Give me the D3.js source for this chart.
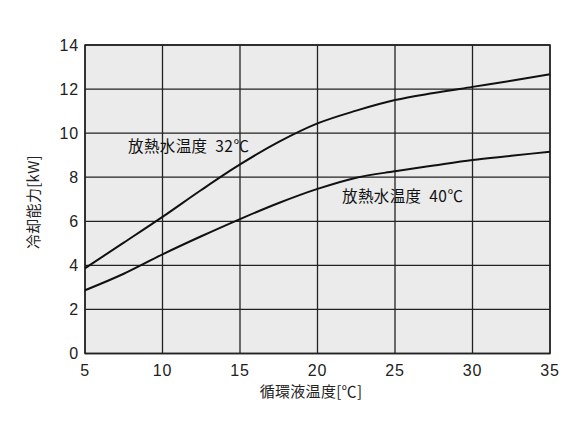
<!DOCTYPE html>
<html><head><meta charset="utf-8">
<script src="https://cdn.jsdelivr.net/npm/d3@7"></script>
<style>
body{margin:0;background:#fff;}
text{font-family:"Noto Sans CJK JP","Noto Sans",sans-serif;}
</style></head>
<body><svg id="c" width="583" height="437"></svg>
<script>
const xTicks = [5,10,15,20,25,30,35];
const yTicks = [0,2,4,6,8,10,12,14];
const xValues = [5,7.5,10,12.5,15,17.5,20,22.5,25,27.5,30,32.5,35];
const series32 = [3.87,5.03,6.2,7.42,8.58,9.6,10.44,11.02,11.5,11.82,12.1,12.38,12.67];
const series40 = [2.87,3.62,4.5,5.32,6.1,6.83,7.47,7.98,8.27,8.53,8.78,8.97,9.16];
const labels = ["放熱水温度 32℃","放熱水温度 40℃"];
const xTitle = "循環液温度[℃]";
const yTitle = "冷却能力[kW]";

const svg = d3.select("#c");
const L=85,R=550,T=45,B=353.5;
const x = d3.scaleLinear().domain([5,35]).range([L,R]);
const y = d3.scaleLinear().domain([0,14]).range([B,T]);

svg.append("rect").attr("x",L).attr("y",T).attr("width",R-L).attr("height",B-T).attr("fill","#ebebeb");

const g = svg.append("g");
g.selectAll(".gx").data(xTicks).join("line")
 .attr("x1",d=>x(d)).attr("x2",d=>x(d)).attr("y1",T).attr("y2",B)
 .attr("stroke","#222").attr("stroke-width",1.3);
g.selectAll(".gy").data(yTicks).join("line")
 .attr("y1",d=>y(d)).attr("y2",d=>y(d)).attr("x1",L).attr("x2",R)
 .attr("stroke","#222").attr("stroke-width",1.3);
svg.append("rect").attr("x",L).attr("y",T).attr("width",R-L).attr("height",B-T)
 .attr("fill","none").attr("stroke","#222").attr("stroke-width",1.5);

svg.append("g").selectAll("text").data(yTicks).join("text")
 .attr("x",79).attr("y",d=>y(d)).attr("dy","0.36em").attr("text-anchor","end")
 .attr("font-size",16).attr("letter-spacing",0.8).attr("fill","#222").style("font-family","Liberation Sans, Arial, sans-serif").text(d=>d);
svg.append("g").selectAll("text").data(xTicks).join("text")
 .attr("x",d=>x(d)).attr("y",370).attr("dy","0.36em").attr("text-anchor","middle")
 .attr("font-size",16).attr("letter-spacing",0.8).attr("fill","#222").style("font-family","Liberation Sans, Arial, sans-serif").text(d=>d);

svg.append("text").attr("x",311).attr("y",392).attr("dy","0.36em").attr("text-anchor","middle")
 .attr("font-size",15).attr("letter-spacing",0.3).attr("fill","#222").text(xTitle);
svg.append("text").attr("transform","translate(34,202) rotate(-90)").attr("dy","0.36em").attr("text-anchor","middle")
 .attr("font-size",15).attr("letter-spacing",0.3).attr("fill","#222").text(yTitle);

const line = d3.line().x((d,i)=>x(xValues[i])).y(d=>y(d)).curve(d3.curveMonotoneX);
[series32,series40].forEach(s=>{
  svg.append("path").attr("d",line(s)).attr("fill","none").attr("stroke","#111").attr("stroke-width",2);
});

svg.append("text").attr("x",128).attr("y",146).attr("dy","0.36em").attr("font-size",15.5).attr("letter-spacing",0.4).attr("word-spacing",4).attr("fill","#111").text(labels[0]);
svg.append("text").attr("x",342).attr("y",196).attr("dy","0.36em").attr("font-size",15.5).attr("letter-spacing",0.4).attr("word-spacing",4).attr("fill","#111").text(labels[1]);
</script></body></html>
